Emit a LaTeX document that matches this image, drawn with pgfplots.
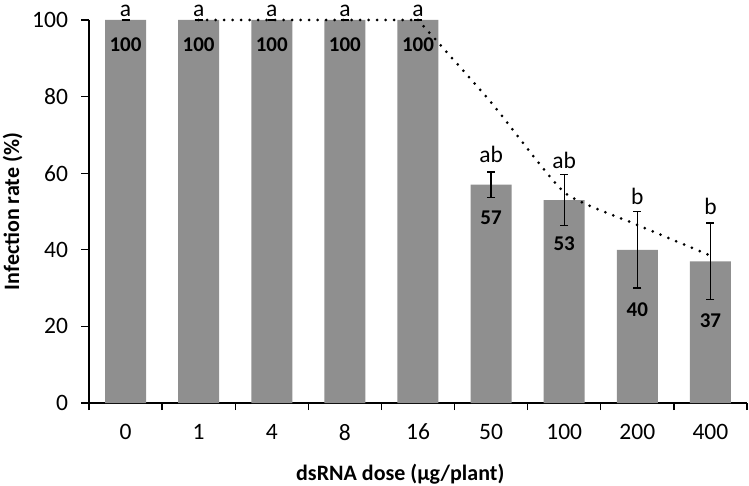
\documentclass[border=0pt]{standalone}
\usepackage{pgfplots}
\pgfplotsset{compat=1.18}
\usepackage{fontspec}
\setmainfont{Carlito}
\definecolor{bargray}{RGB}{143,143,143}
\begin{document}
\begin{tikzpicture}
\useasboundingbox (-89bp,-83bp) rectangle (660bp,403bp);
\begin{axis}[
  at={(0,0)}, anchor=south west,
  scale only axis, width=658bp, height=383bp,
  xmin=-0.5, xmax=8.5, ymin=0, ymax=100,
  clip=false,
  axis x line*=bottom, axis y line*=left,
  axis line style={line width=1.3bp, black},
  xtick={0,...,8}, xticklabels={0,1,4,8,16,50,100,200,400},
  minor xtick={-0.5,0.5,...,8.5},
  ytick={0,20,...,100},
  tick align=outside,
  major x tick style={draw=none},
  minor x tick style={line width=1.3bp, black},
  major y tick style={line width=1.3bp, black},
  major tick length=7.5bp, minor tick length=7bp,
  /pgf/number format/assume math mode=true,
  tick label style={font=\fontsize{23.5bp}{27bp}\selectfont},
  xticklabel style={yshift=-10bp},
  yticklabel style={xshift=-10bp},
  xlabel={dsRNA dose (µg/plant)},
  ylabel={Infection rate (\%)},
  xlabel style={font=\bfseries\fontsize{22bp}{26bp}\selectfont, at={(axis description cs:0.473,-0.186)}, anchor=center},
  ylabel style={font=\bfseries\fontsize{22bp}{26bp}\selectfont, at={(axis description cs:-0.116,0.5)}, anchor=center},
]
\addplot[ybar, bar width=41bp, fill=bargray, draw=none,
  error bars/.cd, y dir=both, y explicit,
  error bar style={line width=1.3bp, black},
  error mark options={rotate=90, mark size=4bp, line width=1.3bp, black}]
  table[x=x, y=y, y error=e] {
x y e
0 100 0
1 100 0
2 100 0
3 100 0
4 100 0
5 57 3.3
6 53 6.6
7 40 10
8 37 10
};
\addplot[sharp plot, line width=3bp, line cap=round, dash pattern=on 0bp off 8.5bp, black]
  coordinates {(1,100) (2,100) (3,100) (4,100)};
\addplot[smooth, tension=0.3, line width=3bp, line cap=round, dash pattern=on 0bp off 8.5bp, black]
  coordinates {(4,100) (5,78.5) (6,55) (7,46.5) (8,38.5)};
\addplot[only marks, mark=none, nodes near coords, point meta=explicit symbolic,
  every node near coord/.append style={font=\fontsize{23.5bp}{27bp}\selectfont, anchor=center, inner sep=0pt}]
  table[x=x, y=y, meta=l] {
x y l
0 102.4 a
1 102.4 a
2 102.4 a
3 102.4 a
4 102.4 a
5 64.8 ab
6 63.3 ab
7 53.9 b
8 51.2 b
};
\addplot[only marks, mark=none, nodes near coords, point meta=explicit symbolic,
  every node near coord/.append style={font=\bfseries\fontsize{21bp}{25bp}\selectfont, anchor=center, inner sep=0pt}]
  table[x=x, y=y, meta=l] {
x y l
0 93.5 100
1 93.5 100
2 93.5 100
3 93.5 100
4 93.5 100
5 48.3 57
6 41.5 53
7 24.3 40
8 21.4 37
};
\end{axis}
\end{tikzpicture}
\end{document}
